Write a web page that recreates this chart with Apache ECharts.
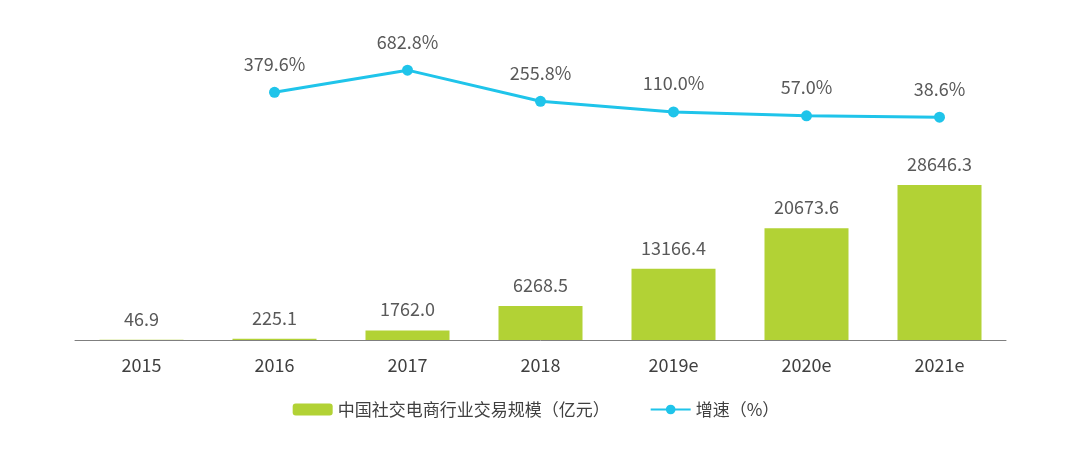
<!DOCTYPE html>
<html>
<head>
<meta charset="UTF-8" />
<style>
  html, body { margin: 0; background: #fff; }
  #main { width: 1072px; height: 449px; }
</style>
</head>
<body>
<div id="main"></div>
<script src="https://cdn.jsdelivr.net/npm/echarts@6/dist/echarts.min.js"></script>
<script>
  const years = ["2015", "2016", "2017", "2018", "2019e", "2020e", "2021e"];
  const scale = [46.9, 225.1, 1762.0, 6268.5, 13166.4, 20673.6, 28646.3];
  const growth = [null, 379.6, 682.8, 255.8, 110.0, 57.0, 38.6];

  const font = "'Noto Sans CJK SC', 'Noto Sans', sans-serif";
  const chart = echarts.init(document.getElementById("main"));
  chart.setOption({
    animation: false,
    textStyle: { fontFamily: font },
    grid: { left: 75, right: 66, top: 30, bottom: 109 },
    legend: {
      bottom: 26,
      itemGap: 40,
      itemWidth: 40,
      itemHeight: 12,
      textStyle: { fontSize: 17, color: "#404040", fontFamily: font },
      data: ["中国社交电商行业交易规模（亿元）", "增速（%）"]
    },
    xAxis: {
      type: "category",
      data: years,
      axisTick: { show: false },
      axisLine: { lineStyle: { color: "#7f7f7f" } },
      axisLabel: { fontSize: 18, color: "#404040", margin: 16 }
    },
    yAxis: [
      { type: "value", min: 0, max: 57292, show: false, splitLine: { show: false } },
      { type: "value", min: -3014, max: 1233, show: false, splitLine: { show: false } }
    ],
    series: [
      {
        name: "中国社交电商行业交易规模（亿元）",
        type: "bar",
        data: scale,
        barWidth: 84,
        itemStyle: { color: "#b2d235" },
        label: {
          show: true, position: "top", distance: 12,
          fontSize: 18, color: "#595959",
          formatter: p => p.value.toFixed(1)
        }
      },
      {
        name: "增速（%）",
        type: "line",
        yAxisIndex: 1,
        data: growth,
        symbol: "circle",
        symbolSize: 11,
        lineStyle: { color: "#1fc4ea", width: 3 },
        itemStyle: { color: "#1fc4ea" },
        label: {
          show: true, position: "top", distance: 14,
          fontSize: 18, color: "#595959",
          formatter: p => p.value.toFixed(1) + "%"
        }
      }
    ]
  });
</script>
</body>
</html>
